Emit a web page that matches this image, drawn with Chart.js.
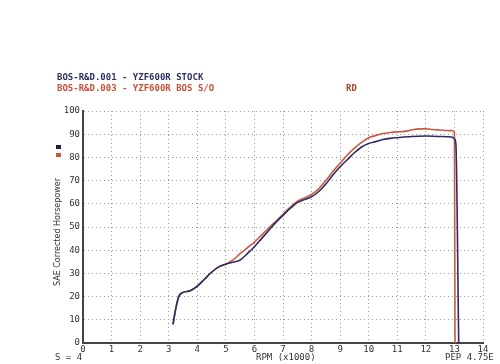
<!DOCTYPE html>
<html>
<head>
<meta charset="utf-8">
<script src="https://cdn.jsdelivr.net/npm/chart.js@4.4.1/dist/chart.umd.min.js"></script>
<style>
  body { margin: 0; background: #fff; }
  #wrap { position: relative; width: 500px; height: 364px; }
  .t { position: absolute; font-family: "DejaVu Sans Mono", monospace; font-weight: bold; font-size: 9px; white-space: nowrap; line-height: 10px; }
  .sq { position: absolute; width: 5px; height: 4px; }
</style>
</head>
<body>
<div id="wrap">
  <canvas id="dyno" width="500" height="364"></canvas>
  <div class="t" style="left:57px;top:72px;color:#2b3160">BOS-R&amp;D.001 - YZF600R STOCK</div>
  <div class="t" style="left:57px;top:83px;color:#c4513a">BOS-R&amp;D.003 - YZF600R BOS S/O</div>
  <div class="t" style="left:346px;top:83px;color:#a8442f">RD</div>
  <div class="sq" style="left:56px;top:145px;background:#1c1e3a"></div>
  <div class="sq" style="left:56px;top:153px;background:#d0523e"></div>
  <div class="t" style="left:58px;top:232px;transform:translate(-50%,-50%) rotate(-90deg);font-family:'DejaVu Sans',sans-serif;font-weight:normal;font-size:8px;color:#333">SAE Corrected Horsepower</div>
  <div class="t" style="left:55px;top:352px;font-weight:normal;color:#333">S = 4</div>
  <div class="t" style="left:256px;top:352px;font-weight:normal;color:#333">RPM (x1000)</div>
  <div class="t" style="left:445px;top:352px;font-weight:normal;color:#333">PEP 4.75E</div>
</div>
<script>
// stock run (blue/black)
const rpmStock = [3.15, 3.25, 3.35, 3.5, 3.75, 4.0, 4.25, 4.5, 4.75, 5.0, 5.25, 5.5, 5.75, 6.0, 6.25, 6.5, 6.75, 7.0, 7.25, 7.5, 7.75, 8.0, 8.25, 8.5, 8.75, 9.0, 9.25, 9.5, 9.75, 10.0, 10.25, 10.5, 10.75, 11.0, 11.5, 12.0, 12.5, 12.9, 13.0, 13.05, 13.15]
const hpStock = [8, 15, 20, 21.8, 22.5, 24.5, 27.5, 30.5, 32.8, 34, 34.8, 35.8, 38.5, 41.5, 45, 48.5, 52, 55, 58, 60.5, 61.8, 63, 65.3, 68.5, 72.5, 76, 79, 82, 84.5, 86, 86.8, 87.7, 88.2, 88.5, 89, 89.2, 89, 88.8, 88, 86, 0]

// BOS S/O run (red)
const rpmBos = [3.15, 3.25, 3.35, 3.5, 3.75, 4.0, 4.25, 4.5, 4.75, 5.0, 5.25, 5.5, 5.75, 6.0, 6.25, 6.5, 6.75, 7.0, 7.25, 7.5, 7.75, 8.0, 8.25, 8.5, 8.75, 9.0, 9.25, 9.5, 9.75, 10.0, 10.25, 10.5, 10.75, 11.0, 11.25, 11.5, 11.75, 12.0, 12.25, 12.5, 12.75, 12.95, 13.0, 13.02]
const hpBos = [8, 15, 20, 21.8, 22.5, 24.5, 27.5, 30.5, 32.8, 34, 35.8, 38.5, 41, 43.5, 46.5, 49.5, 52.5, 55.5, 58.5, 61, 62.5, 64, 66.5, 70, 74, 77.5, 81, 84, 86.5, 88.5, 89.5, 90.3, 90.7, 91, 91.2, 91.8, 92.3, 92.3, 92, 91.8, 91.6, 91.5, 90.5, 0]

const toPoints = (xs, ys) => xs.map((x, i) => ({ x: x, y: ys[i] }))

const ctx = document.getElementById('dyno')
new Chart(ctx, {
  type: 'scatter',
  data: {
    datasets: [{
      label: 'BOS-R&D.001 - YZF600R STOCK',
      data: toPoints(rpmStock, hpStock),
      showLine: true,
      borderColor: '#2a2c62',
      borderWidth: 1.6,
      pointRadius: 0,
      cubicInterpolationMode: 'monotone'
    }, {
      label: 'BOS-R&D.003 - YZF600R BOS S/O',
      data: toPoints(rpmBos, hpBos),
      showLine: true,
      borderColor: '#cc5a42',
      borderWidth: 1.6,
      pointRadius: 0,
      cubicInterpolationMode: 'monotone'
    }]
  },
  options: {
    responsive: false,
    animation: false,
    layout: { padding: { left: 0, right: 17, top: 111, bottom: 0 } },
    plugins: { legend: { display: false }, tooltip: { enabled: false } },
    scales: {
      x: {
        type: 'linear',
        min: 0,
        max: 14,
        afterFit: (s) => { s.height = 21 },
        grid: { color: '#9a9a9a', drawTicks: false },
        border: { color: '#444', width: 2, dash: [1, 3] },
        ticks: { stepSize: 1, padding: 1, color: '#333', font: { family: 'DejaVu Sans Mono', size: 9 } }
      },
      y: {
        min: 0,
        max: 100,
        afterFit: (s) => { s.width = 83 },
        grid: { color: '#9a9a9a', drawTicks: false },
        border: { color: '#444', width: 2, dash: [1, 3] },
        ticks: { stepSize: 10, padding: 3, color: '#333', font: { family: 'DejaVu Sans Mono', size: 9 } }
      }
    }
  }
})
</script>
</body>
</html>
